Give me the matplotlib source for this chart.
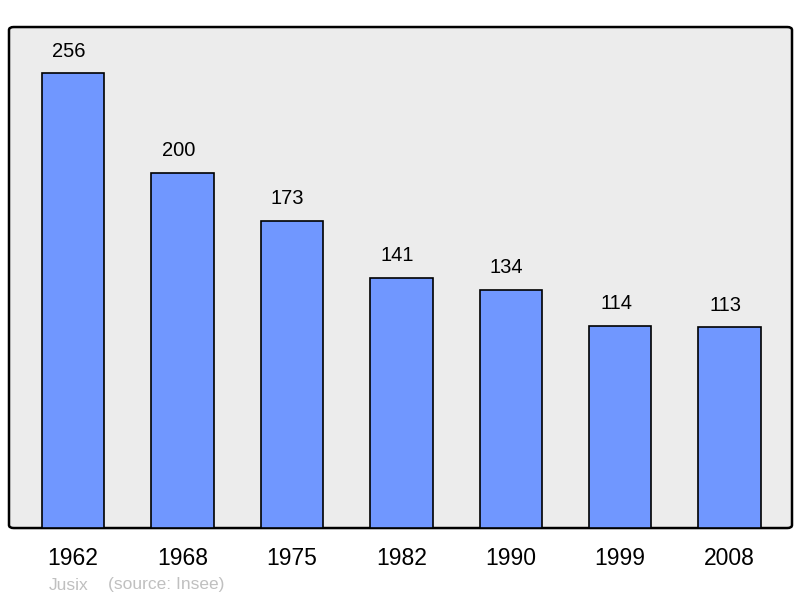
import matplotlib.pyplot as plt
from matplotlib.patches import FancyBboxPatch

# data
years = ["1962", "1968", "1975", "1982", "1990", "1999", "2008"]
population = [256, 200, 173, 141, 134, 114, 113]

plt.rcParams["font.family"] = ["Liberation Sans", "DejaVu Sans"]

fig = plt.figure(figsize=(8, 5.98), dpi=100)
ax = fig.add_axes([0.01125, 0.117, 0.97875, 0.8378])
ax.set_facecolor("none")

# rounded gray frame
frame = FancyBboxPatch((0, 0), 1, 1, boxstyle="round,pad=0,rounding_size=0.006",
                       transform=ax.transAxes, facecolor="#ececec",
                       edgecolor="black", linewidth=1.8, zorder=0, clip_on=False)
ax.add_patch(frame)

x = list(range(len(years)))
bars = ax.bar(x, population, width=0.57, color="#7097ff", edgecolor="black",
              linewidth=1.2, zorder=2)

for xi, v in zip(x, population):
    ax.annotate(str(v), (xi, v), xytext=(-3, 9), textcoords="offset points",
                ha="center", va="bottom", fontsize=14.5)

ax.set_xlim(-0.585, 6.57)
ax.set_ylim(0, 282)
ax.set_xticks(x)
ax.set_xticklabels(years, fontsize=16.5)
ax.tick_params(axis="x", length=0, pad=14)
ax.set_yticks([])
for s in ax.spines.values():
    s.set_visible(False)

fig.text(49 / 800, 1 - 585 / 598, "Jusix", color="#c0c0c0", fontsize=12.5, va="center")
fig.text(108 / 800, 1 - 585 / 598, "(source: Insee)", color="#c0c0c0", fontsize=12.5, va="center")

fig.savefig("out.png", dpi=100)
